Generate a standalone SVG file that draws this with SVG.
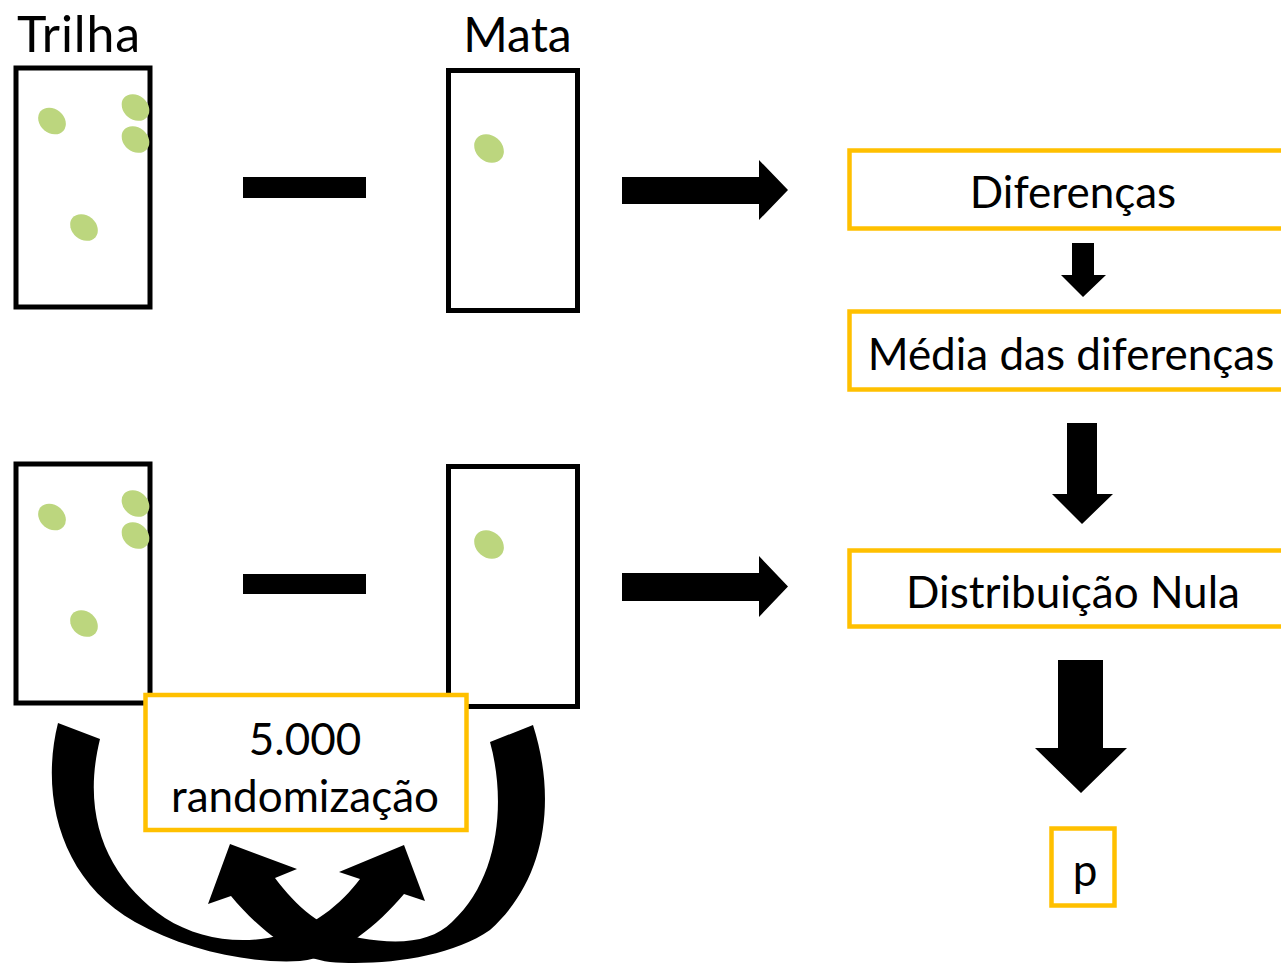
<svg xmlns="http://www.w3.org/2000/svg" width="1281" height="964" viewBox="0 0 1281 964">
<style>
.plot{fill:#fff;stroke:#000;stroke-width:5}
.seed{fill:#BCD67E}
.box{fill:#fff;stroke:#FFC000;stroke-width:4.5}
.t{font-family:Lato,"Liberation Sans",sans-serif;fill:#000}
.lbl{font-size:44px;text-anchor:middle}
.ttl{font-size:50px}
.blk{fill:#000}
</style>
<rect width="1281" height="964" fill="#fff"/>
<g id="titles">
<text class="t ttl" x="17" y="52" textLength="123">Trilha</text>
<text class="t" x="517.5" y="52" font-size="48" text-anchor="middle">Mata</text>
</g>
<g id="trilha-obs">
<rect class="plot" x="16" y="68" width="134" height="239"/>
<ellipse class="seed" cx="0" cy="0" rx="15" ry="12" transform="translate(52,121) rotate(40)"/>
<ellipse class="seed" cx="0" cy="0" rx="15" ry="12" transform="translate(135.5,107.5) rotate(40)"/>
<ellipse class="seed" cx="0" cy="0" rx="15" ry="12" transform="translate(135.5,139.5) rotate(40)"/>
<ellipse class="seed" cx="0" cy="0" rx="15" ry="12" transform="translate(84,227.5) rotate(40)"/>
</g>
<g id="mata-obs">
<rect class="plot" x="448.5" y="70.5" width="129" height="240"/>
<ellipse class="seed" cx="0" cy="0" rx="16" ry="13" transform="translate(489,148.5) rotate(40)"/>
</g>
<g id="minus-obs"><rect class="blk" x="243" y="177" width="123" height="21"/></g>
<g id="trilha-rand">
<rect class="plot" x="16" y="464" width="134" height="239"/>
<ellipse class="seed" cx="0" cy="0" rx="15" ry="12" transform="translate(52,517) rotate(40)"/>
<ellipse class="seed" cx="0" cy="0" rx="15" ry="12" transform="translate(135.5,503.5) rotate(40)"/>
<ellipse class="seed" cx="0" cy="0" rx="15" ry="12" transform="translate(135.5,535.5) rotate(40)"/>
<ellipse class="seed" cx="0" cy="0" rx="15" ry="12" transform="translate(84,623.5) rotate(40)"/>
</g>
<g id="mata-rand">
<rect class="plot" x="448.5" y="466.5" width="129" height="240"/>
<ellipse class="seed" cx="0" cy="0" rx="16" ry="13" transform="translate(489,544.5) rotate(40)"/>
</g>
<g id="minus-rand"><rect class="blk" x="243" y="574" width="123" height="20"/></g>
<g id="diferencas">
<rect class="box" x="849.5" y="150.5" width="460" height="78"/>
<text class="t lbl" x="1073" y="208">Diferenças</text>
</g>
<g id="media">
<rect class="box" x="849.5" y="311.5" width="460" height="78"/>
<text class="t lbl" x="1071" y="370">Média das diferenças</text>
</g>
<g id="nula">
<rect class="box" x="849.5" y="550.5" width="460" height="76"/>
<text class="t lbl" x="1073" y="608">Distribuição Nula</text>
</g>
<g id="pval">
<rect class="box" x="1051.5" y="828.5" width="63" height="77"/>
<text class="t lbl" x="1085" y="886">p</text>
</g>
<g id="connectors">
<path class="blk" d="M622,177 H759 V160 L788,190 L759,220 V204 H622 Z"/>
<path class="blk" d="M622,573 H759 V556 L788,586.5 L759,617 V601 H622 Z"/>
<path class="blk" d="M1072,243 H1094 V275 H1106 L1083,297 L1061,275 H1072 Z"/>
<path class="blk" d="M1067,423 H1097 V494 H1113 L1082,524 L1052,494 H1067 Z"/>
<path class="blk" d="M1058,660 H1103 V748 H1127 L1081,793 L1035,748 H1058 Z"/>
<path class="blk" d="M58,723 C40,795 60,880 135,922 C185,950 250,964 300,961 C340,957 378,925 404,894 L425,901 L404,845 L339,872 L360,879 C342,903 312,930 268,938 C232,944 195,937 165,918 C110,880 80,820 100,739 Z"/>
<path class="blk" d="M533,725 C557,800 546,880 490,930 C450,958 380,966 330,962 C292,958 255,925 231,896 L208,904 L230,844 L297,869 L275,878 C296,906 322,930 360,938 C400,945 432,942 452,922 C500,878 506,800 490,742 Z"/>
</g>
<g id="randomizacao">
<rect class="box" x="145.5" y="695" width="321" height="135"/>
<text class="t lbl" x="305" y="755">5.000</text>
<text class="t lbl" x="305" y="812">randomização</text>
</g>
</svg>
